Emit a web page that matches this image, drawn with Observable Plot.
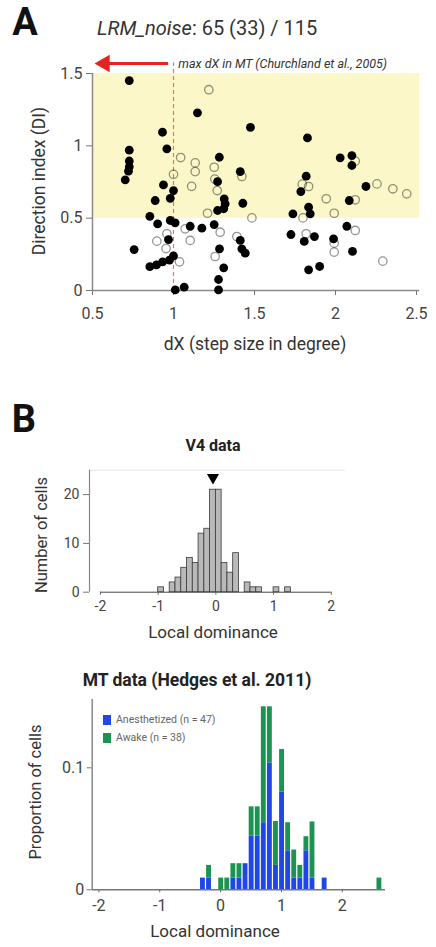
<!DOCTYPE html>
<html><head><meta charset="utf-8">
<script src="https://cdn.jsdelivr.net/npm/d3@7"></script>
<script src="https://cdn.jsdelivr.net/npm/@observablehq/plot@0.6"></script>
<style>
body{margin:0;background:#fff;font-family:Roboto,"Open Sans",sans-serif;}
#root{position:relative;width:436px;height:947px;overflow:hidden;background:#fff;}
.abs{position:absolute;white-space:nowrap;color:#222;line-height:1;}
.plot{position:absolute;left:0;}
</style></head><body><div id="root"></div>
<script>
// ---------- Panel A data ----------
const sigDX = [0.727,1.148,1.475,0.932,0.959,0.727,0.727,0.727,0.722,0.702,
  1.283,1.412,1.272,0.938,1.000,0.980,0.887,1.428,1.313,1.319,
  1.310,1.272,0.854,0.902,0.980,1.010,1.103,1.175,1.251,0.969,
  0.757,1.284,1.412,1.422,1.443,0.854,0.895,0.933,0.975,1.000,
  1.310,1.278,1.011,1.066,1.278,
  1.827,2.029,2.101,2.101,1.819,1.786,2.188,1.834,1.844,1.737,
  2.085,1.725,1.807,1.870,1.988,2.070,2.105,1.834,1.902];
const sigDI = [1.451,1.228,1.127,1.094,0.979,0.970,0.895,0.855,0.825,0.765,
  0.921,0.822,0.752,0.730,0.691,0.637,0.622,0.603,0.634,0.599,
  0.565,0.553,0.513,0.461,0.484,0.468,0.444,0.431,0.456,0.352,
  0.283,0.288,0.346,0.288,0.258,0.165,0.177,0.198,0.210,0.240,
  0.157,0.076,0.004,0.023,0.004,
  1.055,0.917,0.933,0.864,0.790,0.684,0.719,0.576,0.530,0.530,
  0.622,0.387,0.339,0.373,0.357,0.444,0.270,0.143,0.166];
const nsDX = [1.218,1.044,1.134,1.134,1.251,1.000,1.422,1.112,1.270,1.255,
  1.210,1.484,1.072,1.288,1.391,0.959,0.897,1.103,0.954,1.257,1.037,
  2.122,1.834,1.795,1.943,2.122,2.256,2.354,2.440,1.992,1.799,
  1.819,2.122,1.992,1.992,2.292];
const nsDI = [1.388,0.919,0.882,0.822,0.852,0.803,0.788,0.720,0.691,0.770,
  0.534,0.502,0.426,0.403,0.373,0.392,0.341,0.346,0.290,0.235,0.198,
  0.894,0.719,0.735,0.634,0.627,0.737,0.703,0.668,0.534,0.502,
  0.392,0.415,0.327,0.265,0.203];
const aXTicks = [0.5, 1, 1.5, 2, 2.5];
const aYTicks = [0, 0.5, 1, 1.5];
const mtMaxDX = 1;            // max dX in MT
const diBand = [0.5, 1.5];    // highlighted DI range
const bandDX = [0.5, 2.52];

// ---------- Panel B: V4 ----------
const v4BinLeft = [-1.0,-0.8,-0.7,-0.6,-0.5,-0.4,-0.3,-0.2,-0.1,0.0,0.1,0.2,0.3,0.5,0.6,0.7,1.0,1.2];
const v4Counts  = [1,2,3,5,7,6,12,13,21,21,6,4,8,2,1,1,1,1];
const v4Median = -0.05;
const bXTicks = [-2, -1, 0, 1, 2];
const v4YTicks = [0, 10, 20];

// ---------- Panel B: MT ----------
const mtBins = [-0.3,-0.2,0.0,0.1,0.2,0.3,0.4,0.5,0.6,0.7,0.8,0.9,1.0,1.1,1.2,1.3,1.4,1.5,1.7,2.6];
const mtAnesth = [0.0096,0.0096,0,0,0.0096,0.0096,0.0214,0.044,0.044,0.055,0.104,0.020,0.080,0.032,0.0096,0.0096,0.032,0.0096,0.0096,0];
const mtAwake  = [0,0.0104,0.0096,0.0096,0.0118,0.0118,0,0.024,0.024,0.095,0.046,0.036,0.035,0.023,0.023,0.0104,0.0115,0.046,0,0.0096];
const mtYTicks = [0, 0.1];
const seriesNames = ["Anesthetized (n = 47)", "Awake (n = 38)"];
const seriesColors = ["#1e47e6", "#1a9450"];

// ---------- build ----------
const root = document.getElementById("root");
function label(txt, cx, cy, size, o = {}) {
  const d = document.createElement("div");
  d.className = "abs";
  d.innerHTML = txt;
  d.style.left = cx + "px"; d.style.top = cy + "px";
  d.style.fontSize = size + "px";
  if (o.weight) d.style.fontWeight = o.weight;
  if (o.color) d.style.color = o.color;
  d.style.transform = "translate(" + (o.anchor === "start" ? "0" : "-50%") + ",-50%)" + (o.rotate ? " rotate(-90deg)" : "");
  root.appendChild(d);
  return d;
}
function place(svg, top) { svg.classList.add("plot"); svg.style.top = top + "px"; root.appendChild(svg); }
const fmt = d => String(d);
const baseStyle = {background: "transparent", fontFamily: "Roboto, sans-serif", color: "#333", overflow: "visible"};

// Panel A
const sig = sigDX.map((x, i) => ({x, y: sigDI[i]}));
const ns = nsDX.map((x, i) => ({x, y: nsDI[i]}));
const plotA = Plot.plot({
  width: 436, height: 360, marginLeft: 92, marginRight: 20, marginTop: 73, marginBottom: 70,
  x: {domain: [0.5, 2.5]}, y: {domain: [0, 1.5]},
  style: {...baseStyle, fontSize: "16px"},
  marks: [
    Plot.rect([0], {x1: () => bandDX[0], x2: () => bandDX[1], y1: () => diBand[0], y2: () => diBand[1], fill: "#fbf7c8"}),
    Plot.ruleX([aXTicks[0]], {y1: 0, y2: 1.5, stroke: "#8a8a8a", strokeWidth: 1.5}),
    Plot.ruleY([0], {x1: bandDX[0], x2: bandDX[1], stroke: "#8a8a8a", strokeWidth: 1.5}),
    Plot.axisX({ticks: aXTicks, tickFormat: fmt, label: null, tickSize: 5, tickPadding: 12, fontSize: 16, stroke: "#777", fill: "#444"}),
    Plot.axisY({ticks: aYTicks, tickFormat: fmt, label: null, tickSize: 6, tickPadding: 4, fontSize: 16, stroke: "#777", fill: "#444"}),
    Plot.ruleX([mtMaxDX], {y1: 0, y2: 1.575, stroke: "#f0706c", strokeWidth: 1.2, strokeDasharray: "4,3"}),
    Plot.ruleY([1.569], {x1: 0.6, x2: 0.97, stroke: "#e4241f", strokeWidth: 3}),
    Plot.dot([0], {x: () => 0.575, y: () => 1.569, symbol: "triangle", rotate: -90, r: 6.5, fill: "#e4241f"}),
    Plot.text(["max dX in MT (Churchland et al., 2005)"], {x: () => 1.03, y: () => 1.569, text: d => d, textAnchor: "start", fontStyle: "italic", fontSize: 12.5, fill: "#333"}),
    Plot.dot(ns, {x: "x", y: "y", r: 4.2, fill: "none", stroke: "#000", strokeOpacity: 0.42, strokeWidth: 1.3}),
    Plot.dot(sig, {x: "x", y: "y", r: 4.4, fill: "#000"})
  ]
});
place(plotA, 0);
label("A", 25, 22, 38, {weight: 700, color: "#111"});
label("<i>LRM_noise</i>: 65 (33) / 115", 97, 28, 20, {anchor: "start", color: "#333"});
label("Direction index (DI)", 40, 181, 17.5, {rotate: true, color: "#333"});
label("dX (step size in degree)", 255, 345, 17.5, {color: "#333"});

// Panel B - V4
const v4 = v4BinLeft.map((x, i) => ({x1: x, x2: x + 0.1, y: v4Counts[i]}));
const plotV4 = Plot.plot({
  width: 436, height: 200, marginLeft: 89, marginRight: 90.8, marginTop: 29.7, marginBottom: 48.3,
  x: {domain: [-2.19, 2.25]}, y: {domain: [0, 25]},
  style: {...baseStyle, fontSize: "14px"},
  marks: [
    Plot.ruleY([25], {x1: -2.19, x2: 2.25, stroke: "#e6e6e6"}),
    Plot.ruleX([-2.19], {y1: 0, y2: 25, stroke: "#888", strokeWidth: 1.2}),
    Plot.ruleY([0], {x1: -2, x2: 2, stroke: "#444", strokeWidth: 1}),
    Plot.rectY(v4, {x1: "x1", x2: "x2", y: "y", fill: "#b9b9b9", stroke: "#3a3a3a", strokeWidth: 0.8}),
    Plot.dot([v4Median], {x: d => d, y: () => 23.5, symbol: "triangle", rotate: 180, r: 4.5, fill: "#000"}),
    Plot.axisX({ticks: bXTicks, tickFormat: fmt, label: null, tickSize: 3, tickPadding: 6, fontSize: 14, stroke: "#666", fill: "#444"}),
    Plot.axisY({ticks: v4YTicks, tickFormat: fmt, label: null, tickSize: 6, tickPadding: 4, fontSize: 14, stroke: "#777", fill: "#444"})
  ]
});
place(plotV4, 440);
label("B", 24, 419, 38, {weight: 700, color: "#111"});
label("V4 data", 213, 446, 16, {weight: 700, color: "#222"});
label("Number of cells", 42, 535, 16.5, {rotate: true, color: "#333"});
label("Local dominance", 213, 632, 17, {color: "#333"});

// Panel B - MT
const mt = mtBins.map((b, i) => ({b, a: mtAnesth[i], w: mtAwake[i]}));
const plotMT = Plot.plot({
  width: 436, height: 260, marginLeft: 91.7, marginRight: 51, marginTop: 19, marginBottom: 50.7,
  x: {domain: [-2.11, 2.71]}, y: {domain: [0, 0.156]},
  style: {...baseStyle, fontSize: "16px"},
  marks: [
    Plot.ruleX([-2.11], {y1: 0, y2: 0.156, stroke: "#888", strokeWidth: 1.5}),
    Plot.rectY(mt, {x1: d => d.b - 0.03, x2: d => d.b + 0.05, y1: 0, y2: "a", fill: seriesColors[0]}),
    Plot.rectY(mt, {x1: d => d.b - 0.03, x2: d => d.b + 0.05, y1: "a", y2: d => d.a + d.w, fill: seriesColors[1]}),
    Plot.ruleY([0], {x1: -2.11, x2: 2.71, stroke: "#777", strokeWidth: 1.5}),
    Plot.axisX({ticks: bXTicks, tickFormat: fmt, label: null, tickSize: 3, tickPadding: 7, fontSize: 16, stroke: "#666", fill: "#444"}),
    Plot.axisY({ticks: mtYTicks, tickFormat: fmt, label: null, tickSize: 5, tickPadding: 3, fontSize: 16, stroke: "#777", fill: "#444"})
  ]
});
place(plotMT, 680);
label("MT data (Hedges et al. 2011)", 197, 681, 17.5, {weight: 700, color: "#222"});
label("Proportion of cells", 36, 792, 16.5, {rotate: true, color: "#333"});
label("Local dominance", 215, 931, 17, {color: "#333"});
// legend
seriesNames.forEach((n, i) => {
  const cy = 720 + i * 17.5;
  const sq = document.createElement("div");
  sq.className = "abs";
  Object.assign(sq.style, {left: "103px", top: (cy - 5) + "px", width: "8px", height: "10px", background: seriesColors[i]});
  root.appendChild(sq);
  label(n, 116, cy, 10.5, {anchor: "start", color: "#666"});
});
</script></body></html>
